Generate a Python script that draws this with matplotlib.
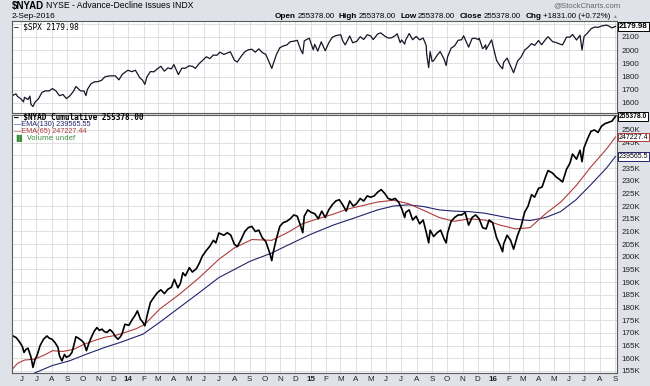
import matplotlib
matplotlib.use("Agg")
import matplotlib.pyplot as plt
import pandas as pd
from matplotlib.ticker import FixedLocator, FuncFormatter

# ---------------- data ----------------
spx_dates = ["2013-05-15","2013-05-21","2013-05-24","2013-05-31","2013-06-05","2013-06-07","2013-06-14","2013-06-18",
"2013-06-20","2013-06-24","2013-06-28","2013-07-05","2013-07-12","2013-07-19","2013-07-26","2013-08-02","2013-08-09",
"2013-08-16","2013-08-23","2013-08-30","2013-09-06","2013-09-13","2013-09-18","2013-09-27","2013-10-04","2013-10-08",
"2013-10-11","2013-10-18","2013-10-25","2013-11-01","2013-11-08","2013-11-15","2013-11-22","2013-11-29","2013-12-06",
"2013-12-13","2013-12-20","2013-12-31","2014-01-08","2014-01-15","2014-01-24","2014-01-29","2014-02-03","2014-02-07",
"2014-02-14","2014-02-21","2014-02-28","2014-03-07","2014-03-14","2014-03-21","2014-03-28","2014-04-02","2014-04-11",
"2014-04-18","2014-04-25","2014-05-02","2014-05-09","2014-05-15","2014-05-23","2014-05-30","2014-06-06","2014-06-13",
"2014-06-20","2014-06-27","2014-07-03","2014-07-11","2014-07-18","2014-07-24","2014-08-01","2014-08-07","2014-08-15",
"2014-08-22","2014-08-29","2014-09-05","2014-09-12","2014-09-19","2014-09-26","2014-10-03","2014-10-10","2014-10-15",
"2014-10-17","2014-10-24","2014-10-31","2014-11-07","2014-11-14","2014-11-21","2014-11-28","2014-12-05","2014-12-12",
"2014-12-16","2014-12-19","2014-12-29","2015-01-06","2015-01-09","2015-01-15","2015-01-22","2015-01-30","2015-02-06",
"2015-02-13","2015-02-20","2015-03-02","2015-03-06","2015-03-11","2015-03-20","2015-03-26","2015-04-03","2015-04-10",
"2015-04-17","2015-04-24","2015-05-01","2015-05-06","2015-05-15","2015-05-21","2015-05-29","2015-06-05","2015-06-12",
"2015-06-19","2015-06-23","2015-06-29","2015-07-02","2015-07-08","2015-07-10","2015-07-17","2015-07-24","2015-07-31",
"2015-08-07","2015-08-14","2015-08-20","2015-08-21","2015-08-25","2015-08-28","2015-09-01","2015-09-04","2015-09-11",
"2015-09-17","2015-09-25","2015-09-29","2015-10-02","2015-10-09","2015-10-16","2015-10-23","2015-10-30","2015-11-03",
"2015-11-13","2015-11-20","2015-11-27","2015-12-02","2015-12-04","2015-12-11","2015-12-14","2015-12-17","2015-12-18",
"2015-12-29","2015-12-31","2016-01-08","2016-01-15","2016-01-20","2016-01-22","2016-01-29","2016-02-05","2016-02-11",
"2016-02-19","2016-02-26","2016-03-04","2016-03-11","2016-03-18","2016-03-24","2016-04-01","2016-04-07","2016-04-15",
"2016-04-20","2016-04-29","2016-05-06","2016-05-13","2016-05-19","2016-05-27","2016-06-03","2016-06-08","2016-06-16",
"2016-06-23","2016-06-27","2016-07-01","2016-07-08","2016-07-15","2016-07-22","2016-07-29","2016-08-05","2016-08-15",
"2016-08-19","2016-08-26","2016-09-02"]
spx_values = [1658,1669,1650,1631,1608,1643,1626,1652,1588,1573,1606,1632,1680,1692,1691,1709,1691,1655,1664,1633,1655,
1688,1725,1692,1691,1656,1703,1745,1760,1762,1771,1798,1804,1806,1805,1775,1818,1848,1837,1848,1790,1774,1741,1797,1838,
1836,1859,1878,1841,1866,1858,1891,1815,1864,1863,1881,1878,1862,1900,1924,1950,1936,1963,1961,1985,1968,1978,1988,1925,
1910,1955,1988,2003,2007,1985,2010,1982,1968,1906,1862,1886,1964,2018,2032,2039,2064,2068,2075,2002,1973,2071,2091,2003,
2044,1993,2063,1995,2055,2097,2110,2117,2071,2040,2108,2056,2067,2102,2081,2117,2108,2080,2123,2131,2107,2092,2094,2110,
2124,2057,2077,2046,2077,2126,2079,2104,2078,2092,2036,1971,1868,1989,1914,1921,1961,1990,1931,1884,1951,2015,2033,2075,
2079,2109,2023,2089,2090,2080,2091,2012,2022,2041,2005,2078,2044,1922,1880,1859,1907,1940,1880,1829,1918,1948,2000,2022,
2050,2036,2073,2041,2081,2102,2065,2058,2047,2040,2099,2099,2119,2077,2113,2001,2103,2130,2162,2175,2173,2183,2190,2184,
2169,2180]

nyad_dates = ["2013-05-15","2013-05-21","2013-05-24","2013-05-29","2013-06-03","2013-06-06","2013-06-10","2013-06-14",
"2013-06-20","2013-06-24","2013-06-28","2013-07-02","2013-07-08","2013-07-15","2013-07-22","2013-07-26","2013-08-01",
"2013-08-07","2013-08-13","2013-08-16","2013-08-21","2013-08-26","2013-08-30","2013-09-05","2013-09-10","2013-09-13",
"2013-09-18","2013-09-24","2013-09-30","2013-10-04","2013-10-09","2013-10-14","2013-10-20","2013-10-25","2013-10-30",
"2013-11-04","2013-11-09","2013-11-14","2013-11-19","2013-11-25","2013-12-01","2013-12-05","2013-12-11","2013-12-16",
"2013-12-19","2013-12-25","2014-01-02","2014-01-09","2014-01-14","2014-01-19","2014-01-25","2014-01-29","2014-02-03",
"2014-02-07","2014-02-14","2014-02-21","2014-02-28","2014-03-07","2014-03-14","2014-03-21","2014-03-28","2014-04-03",
"2014-04-10","2014-04-15","2014-04-20","2014-04-25","2014-05-03","2014-05-09","2014-05-17","2014-05-23","2014-05-29",
"2014-06-06","2014-06-13","2014-06-20","2014-06-25","2014-07-01","2014-07-11","2014-07-18","2014-07-25","2014-08-01",
"2014-08-07","2014-08-15","2014-08-22","2014-08-29","2014-09-05","2014-09-12","2014-09-19","2014-09-26","2014-10-03",
"2014-10-10","2014-10-15","2014-10-17","2014-10-24","2014-10-31","2014-11-07","2014-11-14","2014-11-21","2014-11-28",
"2014-12-05","2014-12-12","2014-12-16","2014-12-19","2014-12-26","2015-01-02","2015-01-09","2015-01-16","2015-01-23",
"2015-01-30","2015-02-06","2015-02-13","2015-02-20","2015-02-27","2015-03-06","2015-03-13","2015-03-20","2015-03-27",
"2015-04-03","2015-04-10","2015-04-17","2015-04-24","2015-05-01","2015-05-08","2015-05-15","2015-05-22","2015-05-29",
"2015-06-05","2015-06-12","2015-06-19","2015-06-26","2015-07-02","2015-07-08","2015-07-10","2015-07-17","2015-07-24",
"2015-07-31","2015-08-07","2015-08-14","2015-08-21","2015-08-25","2015-08-28","2015-09-04","2015-09-11","2015-09-18",
"2015-09-25","2015-09-29","2015-10-02","2015-10-09","2015-10-16","2015-10-23","2015-10-30","2015-11-06","2015-11-13",
"2015-11-20","2015-11-27","2015-12-04","2015-12-11","2015-12-18","2015-12-24","2015-12-31","2016-01-08","2016-01-15",
"2016-01-20","2016-01-22","2016-01-29","2016-02-05","2016-02-11","2016-02-19","2016-02-26","2016-03-04","2016-03-11",
"2016-03-18","2016-03-24","2016-04-01","2016-04-08","2016-04-15","2016-04-20","2016-04-29","2016-05-06","2016-05-13",
"2016-05-19","2016-05-27","2016-06-03","2016-06-08","2016-06-16","2016-06-23","2016-06-27","2016-07-01","2016-07-08",
"2016-07-15","2016-07-22","2016-07-29","2016-08-05","2016-08-12","2016-08-19","2016-08-26","2016-09-02"]
nyad_values_k = [168.8,168.2,167.5,166.2,164.5,162.3,163.5,164.0,160.5,156.4,159.5,161.0,164.9,167.5,168.8,168.0,167.5,
166.2,164.3,161.0,159.0,161.5,160.4,161.0,162.3,164.5,168.5,167.8,166.9,166.0,163.0,166.0,168.8,170.8,172.1,171.0,171.5,
170.5,170.2,171.3,170.2,168.8,167.5,168.5,169.5,173.4,173.0,175.4,176.8,178.7,175.4,174.5,172.8,176.5,182.0,184.0,185.9,
187.0,185.5,187.2,188.0,191.1,187.8,189.5,193.7,192.5,195.7,194.0,195.3,197.5,200.3,202.5,204.2,206.5,205.5,209.4,208.5,
209.5,208.5,205.0,204.0,207.0,210.0,211.5,212.0,210.0,210.5,207.5,206.0,202.0,198.5,201.0,207.0,212.0,213.5,214.0,215.0,
216.5,216.0,212.0,209.5,216.0,218.5,217.5,217.0,215.0,218.0,215.5,218.5,220.5,222.0,222.5,220.5,218.0,222.0,220.0,221.0,
223.0,222.0,224.0,223.5,224.0,225.5,226.5,225.0,223.0,222.5,223.0,221.5,219.0,215.5,217.5,218.5,214.5,216.0,213.0,214.5,
209.0,205.5,210.5,208.0,209.5,210.5,207.0,205.5,209.5,214.0,215.5,216.5,216.5,217.5,212.5,215.5,216.5,215.0,211.5,211.0,
214.5,213.5,207.5,204.5,202.0,205.0,208.5,206.5,203.0,208.5,212.0,217.5,220.0,224.5,223.5,227.0,227.5,231.5,234.0,233.0,
231.5,230.5,229.5,234.5,237.0,240.5,238.5,242.0,237.5,243.0,246.5,249.5,250.0,249.0,251.5,252.5,253.0,253.5,255.378]

ema65_dates = ["2013-05-15","2013-05-24","2013-06-07","2013-06-28","2013-07-19","2013-08-02","2013-08-23","2013-09-13",
"2013-10-04","2013-10-25","2013-11-15","2013-12-06","2013-12-27","2014-01-17","2014-02-03","2014-03-04","2014-04-13",
"2014-05-23","2014-07-01","2014-08-01","2014-09-05","2014-10-15","2014-11-15","2014-12-15","2015-01-15","2015-02-15",
"2015-03-15","2015-04-15","2015-05-15","2015-06-15","2015-07-15","2015-08-15","2015-09-15","2015-10-15","2015-11-15",
"2015-12-15","2016-01-15","2016-02-15","2016-03-15","2016-04-15","2016-05-15","2016-06-15","2016-07-15","2016-08-15",
"2016-09-02"]
ema65_values_k = [156.0,158.0,159.3,159.7,161.5,163.0,162.7,163.5,165.5,167.0,168.3,169.0,170.3,171.7,173.4,179.3,185.2,
191.8,199.0,203.5,206.8,206.5,209.5,213.0,215.0,216.8,218.8,220.2,221.6,222.3,221.0,218.3,215.5,214.0,215.0,214.5,212.5,
211.0,211.5,217.0,221.5,228.0,235.5,242.5,247.227]

ema130_dates = ["2013-05-15","2013-07-01","2013-08-01","2013-09-05","2013-10-10","2013-11-15","2013-12-15","2014-01-30",
"2014-03-04","2014-04-13","2014-05-23","2014-07-01","2014-09-01","2014-10-15","2014-11-15","2014-12-31","2015-02-15",
"2015-04-01","2015-05-15","2015-06-15","2015-07-15","2015-08-15","2015-09-15","2015-10-15","2015-11-15","2015-12-15",
"2016-01-15","2016-02-15","2016-03-15","2016-04-15","2016-05-15","2016-06-15","2016-07-15","2016-08-15","2016-09-02"]
ema130_values_k = [150.5,154.5,157.1,159.0,161.7,164.3,166.2,169.5,174.1,180.0,185.9,191.8,198.2,201.5,204.5,208.8,212.5,
215.5,218.5,220.0,220.5,219.8,218.5,218.0,217.8,217.2,216.0,214.8,214.3,215.5,217.8,222.5,228.5,235.0,239.566]

spx_ticks = [1600, 1700, 1800, 1900, 2000, 2100, 2200]
nyad_ticks_k = [155, 160, 165, 170, 175, 180, 185, 190, 195, 200, 205, 210, 215, 220, 225, 230, 235, 240, 245, 250]
month_letters = ["J", "F", "M", "A", "M", "J", "J", "A", "S", "O", "N", "D"]
header_pieces = [("Open", "255378.00"), ("High", "255378.00"), ("Low", "255378.00"),
                 ("Close", "255378.00"), ("Chg", "+1831.00 (+0.72%)")]

# ---------------- figure ----------------
W, H = 650, 386
BG = "#dfe2e8"
fig = plt.figure(figsize=(W / 100, H / 100), dpi=100)
fig.patch.set_facecolor(BG)
plt.rcParams["font.family"] = ["Liberation Sans", "DejaVu Sans"]


def fx(px):
    return px / W


def fy(py):
    return 1 - py / H


L, R = 12, 617
ax1 = fig.add_axes([fx(L), fy(113), fx(R) - fx(L), fy(21) - fy(113)])
ax2 = fig.add_axes([fx(L), fy(373), fx(R) - fx(L), fy(115) - fy(373)])

xmin, xmax = pd.Timestamp("2013-05-13"), pd.Timestamp("2016-09-05")
months = pd.date_range("2013-06-01", "2016-09-01", freq="MS")

for ax in (ax1, ax2):
    ax.set_facecolor("white")
    ax.set_xlim(xmin, xmax)
    ax.xaxis.set_major_locator(FixedLocator(matplotlib.dates.date2num(months)))
    ax.grid(True, color="#dadada", lw=0.6)
    ax.set_axisbelow(True)
    for s in ax.spines.values():
        s.set_color("#5a5a5a")
        s.set_linewidth(0.8)
    ax.yaxis.tick_right()
    ax.tick_params(axis="y", length=0, pad=3, labelsize=5.8, labelcolor="#222222")
    ax.tick_params(axis="x", length=0)

ax1.tick_params(axis="x", labelbottom=False)

# top panel: SPX
ax1.plot(pd.to_datetime(spx_dates), spx_values, color="#151528", lw=0.9)
ax1.set_ylim(1524, 2221)
ax1.yaxis.set_major_locator(FixedLocator(spx_ticks))
ax1.yaxis.set_major_formatter(FuncFormatter(lambda v, p: "" if v >= 2200 else f"{v:.0f}"))

# bottom panel: NYAD and EMAs
ax2.plot(pd.to_datetime(ema130_dates), ema130_values_k, color="#23236e", lw=0.8)
ax2.plot(pd.to_datetime(ema65_dates), ema65_values_k, color="#b03a3a", lw=0.8)
ax2.plot(pd.to_datetime(nyad_dates), nyad_values_k, color="black", lw=1.2)
ax2.set_ylim(154.2, 255.9)
ax2.yaxis.set_major_locator(FixedLocator(nyad_ticks_k))
ax2.yaxis.set_major_formatter(FuncFormatter(lambda v, p: "" if round(v) == 240 else f"{v:.0f}K"))

labels = [(f"{m.year % 100:02d}" if m.month == 1 else month_letters[m.month - 1]) for m in months]
ax2.set_xticklabels(labels)
ax2.tick_params(axis="x", labelsize=5.8, pad=2.5, labelcolor="#222222")
for t, m in zip(ax2.get_xticklabels(), months):
    if m.month == 1:
        t.set_fontweight("bold")


# right-side value boxes
def value_box(ax, y, text, ec, tc="black", weight="bold", size=5.8):
    ax.text(1.003, y, text, transform=ax.get_yaxis_transform(), ha="left", va="center",
            fontsize=size, fontweight=weight, color=tc, clip_on=False, zorder=10,
            bbox=dict(boxstyle="square,pad=0.12", fc="white", ec=ec, lw=0.7))


value_box(ax1, spx_values[-1], "2179.98", "black")
value_box(ax2, nyad_values_k[-1], "255378.0", "black", size=4.9)
value_box(ax2, ema65_values_k[-1], "247227.4", "#b03a3a", weight="normal", size=5.0)
value_box(ax2, ema130_values_k[-1], "239565.5", "#23236e", weight="normal", size=5.0)

# header
fig.text(fx(12), fy(6), "\\$NYAD", fontsize=7, fontweight="bold", va="center", ha="left")
fig.text(fx(46), fy(6), "NYSE - Advance-Decline Issues INDX", fontsize=6.2, va="center", ha="left")
fig.text(fx(12), fy(16), "2-Sep-2016", fontsize=6, va="center", ha="left")
fig.text(fx(553), fy(6), "@StockCharts.com", fontsize=5.6, va="center", ha="left", color="#666666")

fig.canvas.draw()
rend = fig.canvas.get_renderer()
items = []
for lab, val in header_pieces:
    t1 = fig.text(0, fy(16), lab, fontsize=5.9, fontweight="bold", va="center", ha="left")
    t2 = fig.text(0, fy(16), val, fontsize=5.7, va="center", ha="left")
    items.append((t1, t1.get_window_extent(renderer=rend).width, 1.5))
    items.append((t2, t2.get_window_extent(renderer=rend).width, 4.5))
total = sum(w + g for _, w, g in items) - items[-1][2]
xpos = 610 - total
for t, w, g in items:
    t.set_x(fx(xpos))
    xpos += w + g
fig.text(fx(612), fy(16), "\u25b2", fontsize=3.5, va="center", ha="left", color="#8a8a8a")

# legends
mono = ["DejaVu Sans Mono"]
fig.text(fx(14), fy(27), "\u2014 \\$SPX 2179.98", fontsize=5.6, family=mono, va="center", ha="left")
fig.text(fx(14), fy(117.5), "\u2014 \\$NYAD Cumulative 255378.00", fontsize=5.6, family=mono,
         fontweight="bold", va="center", ha="left")
fig.text(fx(14), fy(124.5), "\u2014EMA(130) 239565.55", fontsize=5.2, va="center", ha="left", color="#23236e")
fig.text(fx(14), fy(131.5), "\u2014EMA(65) 247227.44", fontsize=5.2, va="center", ha="left", color="#b03a3a")
fig.text(fx(14), fy(138.5), "\u2590\u258c Volume undef", fontsize=5.0, va="center", ha="left", color="#3a8a3a",
         family=["DejaVu Sans"])

fig.savefig("out.png", dpi=100, facecolor=fig.get_facecolor())
